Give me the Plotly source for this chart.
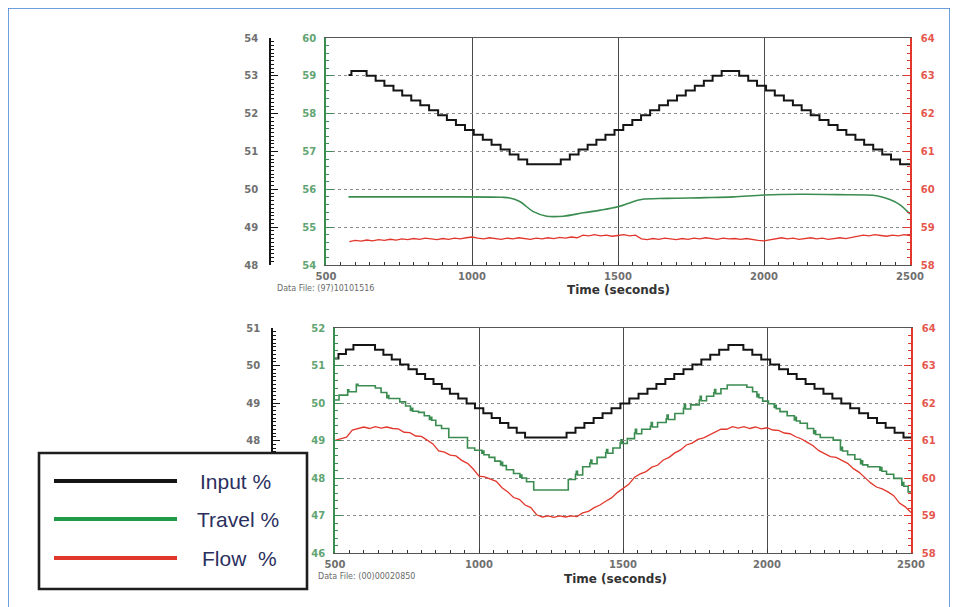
import plotly.graph_objects as go

W, H = 958, 607
OFF = 8  # the page body is offset by 8 px; compensate so the picture lines up


def px(x):
    return (x - OFF) / W


def py(y):
    return 1 - (y - OFF) / H


# ------------------------------------------------------------------ data
# Top chart: Input % (black, staircase, left outer axis 48-54)
TOP_INPUT_T = [577, 587, 639, 670, 700, 731, 761, 792, 823, 853, 884, 914, 945, 976,
               1006, 1037, 1067, 1098, 1129, 1159, 1189, 1304, 1335, 1365, 1396, 1426,
               1457, 1488, 1518, 1549, 1579, 1610, 1641, 1671, 1702, 1732, 1763, 1794,
               1824, 1855, 1915, 1946, 1976, 2007, 2037, 2068, 2099, 2129, 2160, 2190,
               2221, 2252, 2282, 2313, 2343, 2374, 2405, 2435, 2466, 2500]
TOP_INPUT_V = [53.02, 53.13, 53.00, 52.87, 52.74, 52.61, 52.48, 52.35, 52.22, 52.09,
               51.96, 51.83, 51.70, 51.57, 51.44, 51.31, 51.18, 51.05, 50.92, 50.79,
               50.66, 50.79, 50.92, 51.05, 51.18, 51.31, 51.44, 51.57, 51.70, 51.83,
               51.96, 52.09, 52.22, 52.35, 52.48, 52.61, 52.74, 52.87, 53.00, 53.13,
               53.00, 52.87, 52.74, 52.61, 52.48, 52.35, 52.22, 52.09, 51.96, 51.83,
               51.70, 51.57, 51.44, 51.31, 51.18, 51.05, 50.92, 50.79, 50.66, 50.66]

# Top chart: Travel % (green axis 54-60)
TOP_TRAVEL_T = [577, 700, 900, 1100, 1130, 1165, 1210, 1256, 1313, 1381, 1440, 1500,
                1540, 1580, 1667, 1800, 1895, 2000, 2123, 2250, 2386, 2431, 2466, 2489, 2500]
TOP_TRAVEL_V = [55.80, 55.80, 55.80, 55.79, 55.77, 55.67, 55.41, 55.29, 55.29, 55.38,
                55.45, 55.54, 55.64, 55.73, 55.76, 55.78, 55.80, 55.85, 55.87, 55.86,
                55.83, 55.73, 55.59, 55.43, 55.35]

# Sample times of the flow signals (20 s)
FLOW_T = [500, 520, 540, 560, 580, 600, 620, 640, 660, 680, 700, 720, 740, 760, 780,
          800, 820, 840, 860, 880, 900, 920, 940, 960, 980, 1000, 1020, 1040, 1060,
          1080, 1100, 1120, 1140, 1160, 1180, 1200, 1220, 1240, 1260, 1280, 1300, 1320,
          1340, 1360, 1380, 1400, 1420, 1440, 1460, 1480, 1500, 1520, 1540, 1560, 1580,
          1600, 1620, 1640, 1660, 1680, 1700, 1720, 1740, 1760, 1780, 1800, 1820, 1840,
          1860, 1880, 1900, 1920, 1940, 1960, 1980, 2000, 2020, 2040, 2060, 2080, 2100,
          2120, 2140, 2160, 2180, 2200, 2220, 2240, 2260, 2280, 2300, 2320, 2340, 2360,
          2380, 2400, 2420, 2440, 2460, 2480, 2500]

# Top chart: Flow % (red axis 58-64), starting at 580 s
TOP_FLOW_V = [58.62, 58.65, 58.63, 58.66, 58.64, 58.67, 58.65, 58.68, 58.66, 58.69,
              58.67, 58.70, 58.68, 58.71, 58.69, 58.67, 58.70, 58.68, 58.71, 58.69,
              58.72, 58.74, 58.71, 58.69, 58.72, 58.70, 58.68, 58.71, 58.69, 58.72,
              58.70, 58.68, 58.71, 58.69, 58.72, 58.70, 58.73, 58.71, 58.74, 58.72,
              58.79, 58.77, 58.80, 58.77, 58.79, 58.76, 58.78, 58.80, 58.77, 58.79,
              58.69, 58.67, 58.70, 58.68, 58.71, 58.69, 58.67, 58.70, 58.68, 58.71,
              58.69, 58.72, 58.70, 58.68, 58.71, 58.69, 58.70, 58.68, 58.70, 58.67,
              58.65, 58.64, 58.67, 58.70, 58.72, 58.69, 58.71, 58.68, 58.70, 58.72,
              58.69, 58.71, 58.68, 58.70, 58.72, 58.70, 58.73, 58.76, 58.79, 58.77,
              58.80, 58.78, 58.76, 58.79, 58.77, 58.80, 58.78]
TOP_FLOW_START = 4  # index into FLOW_T (580 s)

# Bottom chart: Input % (black axis 45-51)
BOT_INPUT_T = [500, 512, 538, 564, 639, 668, 697, 726, 755, 784, 813, 842, 871, 899,
               928, 957, 986, 1015, 1044, 1073, 1102, 1131, 1160, 1304, 1335, 1366,
               1398, 1429, 1460, 1491, 1522, 1554, 1585, 1616, 1647, 1678, 1710, 1741,
               1772, 1803, 1834, 1866, 1918, 1949, 1980, 2011, 2042, 2073, 2103, 2134,
               2165, 2196, 2227, 2258, 2289, 2320, 2351, 2382, 2412, 2443, 2474, 2500]
BOT_INPUT_V = [50.19, 50.31, 50.43, 50.55, 50.42, 50.29, 50.16, 50.03, 49.90, 49.77,
               49.64, 49.51, 49.38, 49.25, 49.12, 48.99, 48.86, 48.73, 48.60, 48.47,
               48.34, 48.21, 48.08, 48.21, 48.34, 48.47, 48.60, 48.73, 48.86, 48.99,
               49.12, 49.25, 49.38, 49.51, 49.64, 49.77, 49.90, 50.03, 50.16, 50.29,
               50.42, 50.55, 50.42, 50.29, 50.16, 50.03, 49.90, 49.77, 49.64, 49.51,
               49.38, 49.25, 49.12, 48.99, 48.86, 48.73, 48.60, 48.47, 48.34, 48.21,
               48.08, 48.08]

# Bottom chart: Travel % (green axis 46-52)
BOT_TRAVEL_T = [500, 514, 544, 548, 574, 580, 640, 660, 680, 683, 687, 725, 745, 762,
                766, 770, 790, 810, 828, 832, 836, 850, 870, 895, 960, 985, 1010, 1013,
                1017, 1035, 1055, 1075, 1078, 1082, 1095, 1120, 1142, 1145, 1149, 1165,
                1190, 1310, 1335, 1338, 1342, 1360, 1385, 1388, 1392, 1410, 1440, 1443,
                1447, 1465, 1490, 1493, 1497, 1515, 1540, 1543, 1547, 1565, 1595, 1598,
                1602, 1620, 1650, 1653, 1657, 1680, 1710, 1713, 1717, 1735, 1765, 1768,
                1772, 1790, 1815, 1818, 1822, 1840, 1862, 1930, 1950, 1965, 1968, 1972,
                1985, 2005, 2025, 2028, 2032, 2045, 2070, 2095, 2098, 2102, 2115, 2140,
                2162, 2165, 2169, 2185, 2230, 2255, 2258, 2262, 2280, 2305, 2325, 2328,
                2332, 2350, 2392, 2395, 2399, 2415, 2440, 2468, 2471, 2475, 2490, 2500]
BOT_TRAVEL_V = [50.08, 50.21, 50.35, 50.30, 50.50, 50.46, 50.40, 50.28, 50.14, 50.20,
                50.12, 50.03, 49.92, 49.80, 49.86, 49.78, 49.75, 49.66, 49.56, 49.62,
                49.54, 49.40, 49.32, 49.08, 48.80, 48.74, 48.66, 48.72, 48.62, 48.55,
                48.45, 48.35, 48.42, 48.33, 48.22, 48.12, 48.02, 48.08, 48.00, 47.90,
                47.68, 47.96, 48.10, 48.18, 48.08, 48.30, 48.40, 48.48, 48.38, 48.55,
                48.68, 48.76, 48.66, 48.80, 48.93, 49.02, 48.92, 49.05, 49.20, 49.30,
                49.18, 49.30, 49.38, 49.48, 49.36, 49.48, 49.58, 49.68, 49.56, 49.72,
                49.86, 49.96, 49.84, 49.95, 50.08, 50.18, 50.06, 50.18, 50.27, 50.36,
                50.25, 50.38, 50.48, 50.42, 50.30, 50.17, 50.23, 50.14, 50.05, 49.98,
                49.88, 49.94, 49.85, 49.77, 49.66, 49.55, 49.62, 49.52, 49.46, 49.32,
                49.19, 49.26, 49.16, 49.08, 49.01, 48.75, 48.82, 48.72, 48.62, 48.50,
                48.38, 48.46, 48.35, 48.30, 48.21, 48.28, 48.18, 48.10, 47.99, 47.81,
                47.88, 47.78, 47.63, 47.63]

# Bottom chart: Flow % (red axis 58-64)
BOT_FLOW_V = [61.00, 61.04, 61.09, 61.28, 61.31, 61.36, 61.32, 61.37, 61.33, 61.36,
              61.32, 61.31, 61.22, 61.21, 61.12, 61.11, 61.01, 60.91, 60.72, 60.69,
              60.61, 60.59, 60.47, 60.39, 60.24, 60.05, 60.03, 59.98, 59.91, 59.74,
              59.63, 59.48, 59.43, 59.28, 59.21, 59.02, 58.96, 58.99, 58.95, 58.99,
              58.96, 58.99, 58.97, 59.07, 59.11, 59.21, 59.28, 59.38, 59.47, 59.61,
              59.73, 59.83, 60.02, 60.11, 60.17, 60.29, 60.34, 60.48, 60.55, 60.67,
              60.75, 60.88, 60.93, 61.03, 61.07, 61.14, 61.21, 61.30, 61.30, 61.37,
              61.33, 61.37, 61.32, 61.36, 61.31, 61.34, 61.28, 61.27, 61.20, 61.18,
              61.10, 61.04, 60.95, 60.86, 60.73, 60.65, 60.57, 60.55, 60.47, 60.39,
              60.25, 60.15, 60.01, 59.87, 59.76, 59.71, 59.63, 59.53, 59.33, 59.23,
              59.08]

X_TICKS = [500, 1000, 1500, 2000, 2500]
BOT_BLACK_TICKS = [48, 49, 50, 51]   # lower labels are hidden behind the legend box
LEGEND_LABELS = ["Input %", "Travel %", "Flow\u00a0 %"]
DATA_FILES = ["Data File: (97)10101516", "Data File: (00)00020850"]
X_TITLE = "Time (seconds)"

# ------------------------------------------------------------------ style
BLACK = "#151515"
GREEN = "#3b8c50"
GREEN_LBL = "#62a472"
RED = "#e2372c"
RED_LBL = "#e5574e"
TICK_FONT = dict(family="DejaVu Sans", size=10, color="#707070", weight="bold")

TOP_X = [px(326), px(910)]
TOP_Y = [py(265), py(38)]
BOT_X = [px(335), px(911)]
BOT_Y = [py(553), py(328)]

fig = go.Figure()

# top traces
fig.add_trace(go.Scatter(x=TOP_TRAVEL_T, y=TOP_TRAVEL_V, xaxis="x", yaxis="y2",
                         mode="lines", line=dict(color=GREEN, width=1.6, shape="spline"),
                         name="Travel %"))
fig.add_trace(go.Scatter(x=FLOW_T[TOP_FLOW_START:], y=TOP_FLOW_V, xaxis="x", yaxis="y3",
                         mode="lines", line=dict(color=RED, width=1.3), name="Flow %"))
fig.add_trace(go.Scatter(x=TOP_INPUT_T, y=TOP_INPUT_V, xaxis="x", yaxis="y",
                         mode="lines", line=dict(color=BLACK, width=2, shape="hv"),
                         name="Input %"))
# bottom traces
fig.add_trace(go.Scatter(x=BOT_TRAVEL_T, y=BOT_TRAVEL_V, xaxis="x2", yaxis="y5",
                         mode="lines", line=dict(color=GREEN, width=1.6, shape="hv"),
                         name="Travel %"))
fig.add_trace(go.Scatter(x=FLOW_T, y=BOT_FLOW_V, xaxis="x2", yaxis="y6",
                         mode="lines", line=dict(color=RED, width=1.3), name="Flow %"))
fig.add_trace(go.Scatter(x=BOT_INPUT_T, y=BOT_INPUT_V, xaxis="x2", yaxis="y4",
                         mode="lines", line=dict(color=BLACK, width=2, shape="hv"),
                         name="Input %"))


def xaxis_cfg(domain, anchor):
    return dict(domain=domain, anchor=anchor, range=[500, 2500], tickvals=X_TICKS,
                ticks="inside", ticklen=4, tickcolor="#333", tickwidth=1,
                minor=dict(dtick=50, ticks="inside", ticklen=3, tickcolor="#333",
                           showgrid=False),
                showgrid=True, gridcolor="#4a4a4a", gridwidth=1.3,
                showline=True, linecolor="#555", linewidth=1.3, mirror=True,
                zeroline=False, tickfont=TICK_FONT, ticklabelstandoff=2,
                automargin=False)


def black_axis(domain, rng, pos, overlay, tickvals):
    return dict(domain=domain, anchor="free", position=pos, overlaying=overlay,
                side="left", range=rng, tickvals=tickvals, ticks="inside", ticklen=7,
                tickwidth=1.3, tickcolor=BLACK,
                minor=dict(dtick=0.1, ticks="inside", ticklen=3, tickcolor=BLACK,
                           showgrid=False),
                showline=True, linecolor=BLACK, linewidth=1.6, showgrid=False,
                zeroline=False, tickfont=TICK_FONT, ticklabelstandoff=9,
                automargin=False)


def green_axis(domain, rng, anchor):
    return dict(domain=domain, anchor=anchor, side="left", range=rng, dtick=1,
                ticks="inside", ticklen=7, tickwidth=1.2, tickcolor=GREEN,
                minor=dict(dtick=0.2, ticks="inside", ticklen=3, tickcolor=GREEN,
                           showgrid=False),
                showline=True, linecolor=GREEN, linewidth=1.6,
                showgrid=True, gridcolor="#8a8a8a", gridwidth=1, griddash="dot",
                zeroline=False, tickfont=dict(TICK_FONT, color=GREEN_LBL),
                ticklabelstandoff=6, automargin=False)


def red_axis(rng, anchor, overlay):
    return dict(anchor=anchor, overlaying=overlay, side="right", range=rng, dtick=1,
                ticks="inside", ticklen=7, tickwidth=1.2, tickcolor=RED,
                minor=dict(dtick=0.2, ticks="inside", ticklen=3, tickcolor=RED,
                           showgrid=False),
                showline=True, linecolor=RED, linewidth=1.6, showgrid=False,
                zeroline=False, tickfont=dict(TICK_FONT, color=RED_LBL),
                ticklabelstandoff=7, automargin=False)


fig.update_layout(
    width=W, height=H,
    margin=dict(l=0, r=0, t=0, b=0, pad=0, autoexpand=False),
    paper_bgcolor="white", plot_bgcolor="white", showlegend=False,
    xaxis=xaxis_cfg(TOP_X, "y2"),
    xaxis2=xaxis_cfg(BOT_X, "y5"),
    yaxis=black_axis(TOP_Y, [48, 54], px(270), "y2", [48, 49, 50, 51, 52, 53, 54]),
    yaxis2=green_axis(TOP_Y, [54, 60], "x"),
    yaxis3=red_axis([58, 64], "x", "y2"),
    yaxis4=black_axis(BOT_Y, [45, 51], px(272), "y5", BOT_BLACK_TICKS),
    yaxis5=green_axis(BOT_Y, [46, 52], "x2"),
    yaxis6=red_axis([58, 64], "x2", "y5"),
)

shapes = [
    # outer blue frame
    dict(type="rect", xref="paper", yref="paper", x0=px(8), x1=px(950), y0=py(8),
         y1=py(640), line=dict(color="#3f7fcf", width=1.5), fillcolor="rgba(0,0,0,0)",
         layer="above"),
    # legend box
    dict(type="rect", xref="paper", yref="paper", x0=px(39), x1=px(307), y0=py(453),
         y1=py(589), line=dict(color="#1e1e1e", width=2.6), fillcolor="white",
         layer="above"),
]
legend_colors = [BLACK, "#1f9a46", "#e0392c"]
legend_rows = [481, 519, 558]
for col, yy in zip(legend_colors, legend_rows):
    shapes.append(dict(type="line", xref="paper", yref="paper", x0=px(54), x1=px(177),
                       y0=py(yy), y1=py(yy), line=dict(color=col, width=4),
                       layer="above"))

annotations = []
legend_x = [198, 195, 200]
for lbl, xx, yy in zip(LEGEND_LABELS, legend_x, legend_rows):
    annotations.append(dict(text=lbl, xref="paper", yref="paper", x=px(xx), y=py(yy),
                            xanchor="left", yanchor="middle", showarrow=False,
                            font=dict(family="Liberation Sans", size=21,
                                      color="#2b2f5e")))
for (xx, yy) in [(618, 290), (615, 579)]:
    annotations.append(dict(text=X_TITLE, xref="paper", yref="paper", x=px(xx),
                            y=py(yy), xanchor="center", yanchor="middle",
                            showarrow=False,
                            font=dict(family="DejaVu Sans", size=12, color="#333",
                                      weight="bold")))
for txt, (xx, yy) in zip(DATA_FILES, [(275, 288), (316, 576)]):
    annotations.append(dict(text=txt, xref="paper", yref="paper", x=px(xx), y=py(yy),
                            xanchor="left", yanchor="middle", showarrow=False,
                            font=dict(family="DejaVu Sans", size=8, color="#6a6a6a")))

fig.update_layout(shapes=shapes, annotations=annotations)

fig.write_html("out.html")
